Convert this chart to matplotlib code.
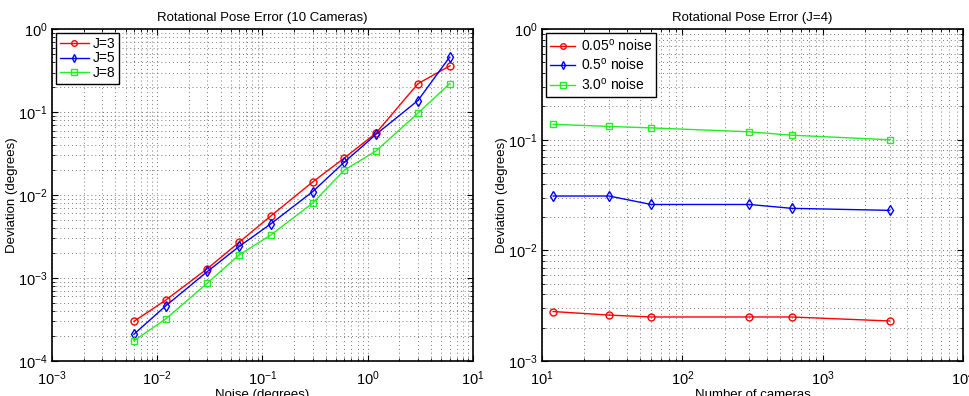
import matplotlib
matplotlib.use("Agg")
import matplotlib.pyplot as plt
import numpy as np

plt.rcParams['font.family'] = ['Liberation Sans', 'DejaVu Sans']
plt.rcParams['mathtext.fontset'] = 'custom'
plt.rcParams['mathtext.rm'] = 'Liberation Sans'
plt.rcParams['mathtext.it'] = 'Liberation Sans'

# Left plot data: noise vs deviation for 10 cameras
noise = [0.006, 0.012, 0.03, 0.06, 0.12, 0.3, 0.6, 1.2, 3, 6]
j3 = [3.0e-4, 5.4e-4, 1.3e-3, 2.7e-3, 5.6e-3, 0.0144, 0.028, 0.056, 0.22, 0.36]
j5 = [2.1e-4, 4.6e-4, 1.2e-3, 2.4e-3, 4.5e-3, 0.011, 0.025, 0.054, 0.138, 0.46]
j8 = [1.75e-4, 3.2e-4, 8.7e-4, 1.9e-3, 3.3e-3, 8.0e-3, 0.020, 0.034, 0.097, 0.22]

# Right plot data: number of cameras vs deviation (J=4)
cameras = [12, 30, 60, 300, 600, 3000]
n005 = [0.0028, 0.0026, 0.0025, 0.0025, 0.0025, 0.0023]
n05 = [0.031, 0.031, 0.026, 0.026, 0.024, 0.023]
n30 = [0.138, 0.132, 0.128, 0.118, 0.110, 0.100]

green = '#22ee22'

fig = plt.figure(figsize=(9.7, 3.96), dpi=100)
ax1 = fig.add_axes([0.0536, 0.0884, 0.434, 0.838])
ax2 = fig.add_axes([0.5588, 0.0884, 0.434, 0.838])

def style(ax):
    ax.set_xscale('log')
    ax.set_yscale('log')
    ax.grid(True, which='both', linestyle=(0, (1, 3)), color='#777777', linewidth=0.7)
    ax.tick_params(which='both', direction='in', top=True, right=True, labelsize=10.5)
    ax.tick_params(axis='x', which='major', pad=6)
    ax.tick_params(axis='y', which='major', pad=3)
    ax.tick_params(which='major', length=4, width=0.8)
    ax.tick_params(which='minor', length=2, width=0.6)
    for s in ax.spines.values():
        s.set_linewidth(1.2)

mk = dict(markerfacecolor='none', markersize=5, linewidth=1, markeredgewidth=1)

ax1.plot(noise, j3, 'r-o', label='J=3', markeredgecolor='r', **mk)
ax1.plot(noise, j5, 'b-d', label='J=5', markeredgecolor='b', **mk)
ax1.plot(noise, j8, '-s', color=green, label='J=8', markeredgecolor=green, **mk)
style(ax1)
ax1.set_xlim(1e-3, 10)
ax1.set_ylim(1e-4, 1)
ax1.set_title('Rotational Pose Error (10 Cameras)', fontsize=9.5)
ax1.set_xlabel('Noise (degrees)', fontsize=9.5, labelpad=1)
ax1.set_ylabel('Deviation (degrees)', fontsize=9.5, labelpad=0)
leg1 = ax1.legend(loc='upper left', fontsize=10, fancybox=False, edgecolor='k',
                  framealpha=1, handlelength=2.1, borderaxespad=0.3,
                  markerscale=0.8, labelspacing=0.05, borderpad=0.25,
                  handletextpad=0.3)
leg1.get_frame().set_linewidth(1.0)

ax2.plot(cameras, n005, 'r-o', label='0.05$^{\\rm o}$ noise', markeredgecolor='r', **mk)
ax2.plot(cameras, n05, 'b-d', label='0.5$^{\\rm o}$ noise', markeredgecolor='b', **mk)
ax2.plot(cameras, n30, '-s', color=green, label='3.0$^{\\rm o}$ noise', markeredgecolor=green, **mk)
style(ax2)
ax2.set_xlim(10, 1e4)
ax2.set_ylim(1e-3, 1)
ax2.set_title('Rotational Pose Error (J=4)', fontsize=9.5)
ax2.set_xlabel('Number of cameras', fontsize=9.5, labelpad=1)
ax2.set_ylabel('Deviation (degrees)', fontsize=9.5, labelpad=0)
leg2 = ax2.legend(loc='upper left', fontsize=10, fancybox=False, edgecolor='k',
                  framealpha=1, handlelength=1.8, borderaxespad=0.3,
                  markerscale=0.8, labelspacing=0.25, borderpad=0.3,
                  handletextpad=0.4)
leg2.get_frame().set_linewidth(1.0)

fig.savefig('out.png', dpi=100)
